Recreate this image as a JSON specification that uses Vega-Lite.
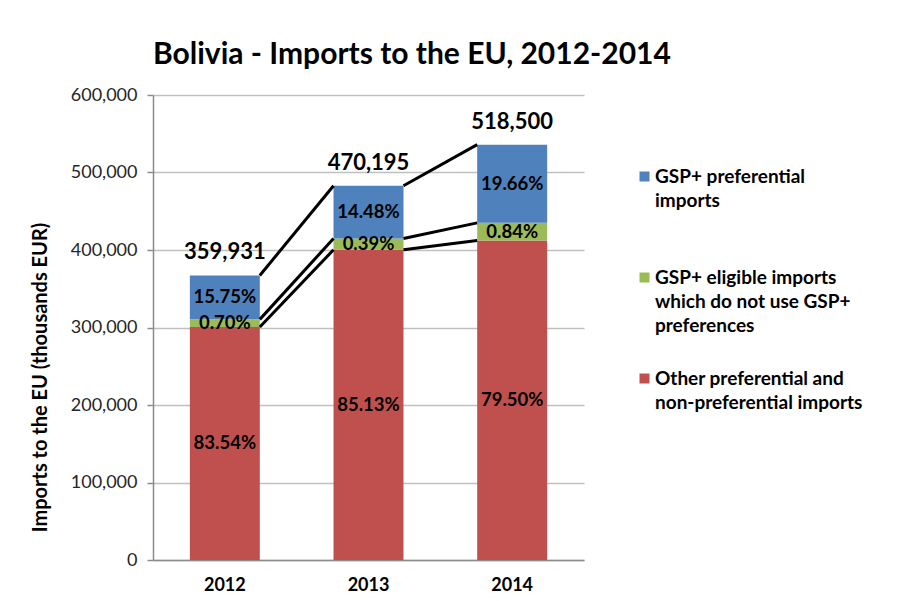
{
  "$schema": "https://vega.github.io/schema/vega-lite/v6.json",
  "width": 431,
  "height": 465,
  "autosize": {"type": "none"},
  "padding": {"left": 153, "top": 95, "right": 319, "bottom": 41},
  "background": "white",
  "config": {"view": {"stroke": null}, "font": "Lato"},
  "title": {"text": "Bolivia - Imports to the EU, 2012-2014", "anchor": "start", "frame": "group", "font": "Lato", "fontSize": 30, "fontWeight": "bold", "color": "#000", "offset": 16},
  "datasets": {
    "imports": [
      {"year": "2012", "series": "Other preferential and non-preferential imports", "k": 1, "value": 300686, "pct": "83.54%"},
      {"year": "2012", "series": "GSP+ eligible imports which do not use GSP+ preferences", "k": 2, "value": 9800, "pct": "0.70%"},
      {"year": "2012", "series": "GSP+ preferential imports", "k": 3, "value": 56700, "pct": "15.75%"},
      {"year": "2013", "series": "Other preferential and non-preferential imports", "k": 1, "value": 400277, "pct": "85.13%"},
      {"year": "2013", "series": "GSP+ eligible imports which do not use GSP+ preferences", "k": 2, "value": 14500, "pct": "0.39%"},
      {"year": "2013", "series": "GSP+ preferential imports", "k": 3, "value": 68100, "pct": "14.48%"},
      {"year": "2014", "series": "Other preferential and non-preferential imports", "k": 1, "value": 412208, "pct": "79.50%"},
      {"year": "2014", "series": "GSP+ eligible imports which do not use GSP+ preferences", "k": 2, "value": 22800, "pct": "0.84%"},
      {"year": "2014", "series": "GSP+ preferential imports", "k": 3, "value": 100900, "pct": "19.66%"}
    ],
    "totals": [
      {"year": "2012", "label": "359,931"},
      {"year": "2013", "label": "470,195"},
      {"year": "2014", "label": "518,500"}
    ]
  },
  "data": {"name": "imports"},
  "transform": [
    {"stack": "value", "groupby": ["year"], "sort": [{"field": "k", "order": "ascending"}], "as": ["v0", "v1"]}
  ],
  "layer": [
    {
      "mark": {"type": "bar", "width": {"band": 0.487}},
      "encoding": {
        "x": {"field": "year", "type": "ordinal", "scale": {"type": "band", "paddingInner": 0, "paddingOuter": 0},
          "axis": {"title": null, "labelAngle": 0, "labelFont": "Lato", "labelFontSize": 18, "labelFontWeight": "bold", "labelColor": "#000", "ticks": false, "domainColor": "#8c8c8c", "domainWidth": 1.5, "grid": false, "labelPadding": 16}},
        "y": {"field": "v1", "type": "quantitative", "scale": {"domain": [0, 600000], "nice": false},
          "axis": {"title": "Imports to the EU (thousands EUR)", "titleFont": "Lato", "titleFontSize": 20, "titleFontWeight": "bold", "titleColor": "#000", "titleX": -113, "titleY": 282, "titleAngle": -90, "titleBaseline": "middle", "titleAlign": "center",
            "values": [0, 100000, 200000, 300000, 400000, 500000, 600000], "format": ",.0f", "labelFont": "Lato", "labelFontSize": 18, "labelColor": "#262626", "tickSize": 6, "tickColor": "#8c8c8c", "tickWidth": 1.5, "domainColor": "#8c8c8c", "domainWidth": 1.5, "gridColor": "#c0c0c0", "gridWidth": 1.5, "labelPadding": 10}},
        "y2": {"field": "v0"},
        "color": {"field": "series", "type": "nominal",
          "scale": {"domain": ["GSP+ preferential imports", "GSP+ eligible imports which do not use GSP+ preferences", "Other preferential and non-preferential imports"], "range": ["#4F81BD", "#9BBB59", "#C0504D"]},
          "legend": {"title": null, "orient": "none", "legendX": 482, "legendY": 72, "symbolType": "square", "symbolSize": 100, "symbolStrokeWidth": 0, "labelFont": "Lato", "labelFontSize": 19, "labelFontWeight": "bold", "labelColor": "#000", "labelOffset": 1, "labelLimit": 300, "rowPadding": 33,
            "encoding": {"labels": {"lineHeight": {"value": 24}}},
            "labelExpr": "datum.label == 'GSP+ preferential imports' ? ['GSP+ preferential', 'imports', ''] : datum.label == 'Other preferential and non-preferential imports' ? ['Other preferential and', 'non-preferential imports'] : ['GSP+ eligible imports', 'which do not use GSP+', 'preferences']"}}
      }
    },
    {
      "transform": [
        {"window": [{"op": "lead", "field": "v1", "as": "next"}, {"op": "lead", "field": "year", "as": "nextYear"}], "groupby": ["series"], "sort": [{"field": "year", "order": "ascending"}]},
        {"filter": "datum.nextYear != null"}
      ],
      "mark": {"type": "rule", "color": "#000", "strokeWidth": 3},
      "encoding": {
        "x": {"field": "year", "type": "ordinal", "bandPosition": 0.7435, "scale": {"type": "band", "paddingInner": 0, "paddingOuter": 0}},
        "x2": {"field": "nextYear", "bandPosition": 0.2565},
        "y": {"field": "v1", "type": "quantitative"},
        "y2": {"field": "next"}
      }
    },
    {
      "transform": [{"calculate": "(datum.v0 + datum.v1) / 2", "as": "mid"}],
      "mark": {"type": "text", "font": "Lato", "fontSize": 18.5, "fontWeight": "bold", "color": "#000", "baseline": "middle"},
      "encoding": {
        "x": {"field": "year", "type": "ordinal", "scale": {"type": "band", "paddingInner": 0, "paddingOuter": 0}},
        "y": {"field": "mid", "type": "quantitative"},
        "text": {"field": "pct"}
      }
    },
    {
      "transform": [
        {"aggregate": [{"op": "max", "field": "v1", "as": "top"}], "groupby": ["year"]},
        {"lookup": "year", "from": {"data": {"name": "totals"}, "key": "year", "fields": ["label"]}}
      ],
      "mark": {"type": "text", "font": "Lato", "fontSize": 22, "fontWeight": "bold", "color": "#000", "baseline": "middle", "dy": -23},
      "encoding": {
        "x": {"field": "year", "type": "ordinal", "scale": {"type": "band", "paddingInner": 0, "paddingOuter": 0}},
        "y": {"field": "top", "type": "quantitative"},
        "text": {"field": "label"}
      }
    }
  ]
}
